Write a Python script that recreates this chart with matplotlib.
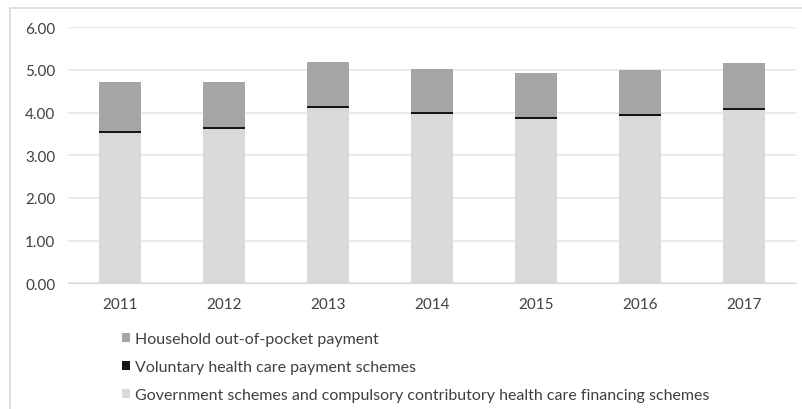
import matplotlib.pyplot as plt
from matplotlib.patches import Rectangle, Patch
import numpy as np

years = ["2011", "2012", "2013", "2014", "2015", "2016", "2017"]
government = [3.53, 3.61, 4.10, 3.97, 3.85, 3.91, 4.06]
voluntary = [0.05, 0.05, 0.05, 0.05, 0.05, 0.05, 0.05]
household = [1.13, 1.06, 1.04, 1.00, 1.03, 1.05, 1.05]

labels = ["Household out-of-pocket payment",
          "Voluntary health care payment schemes",
          "Government schemes and compulsory contributory health care financing schemes"]
colors = ["#a5a5a5", "#141414", "#d9d9d9"]

plt.rcParams['font.family'] = ['Lato', 'DejaVu Sans']

W, H = 803, 410
fig = plt.figure(figsize=(W / 100, H / 100), dpi=100)
ax = fig.add_axes([68 / W, 1 - 284.3 / H, 728 / W, (284.3 - 28.3) / H])

# outer chart frame (runs off the right and bottom edges)
fig.patches.append(Rectangle((10 / W, -0.1), 1.2, 1.1 - 9 / H, transform=fig.transFigure,
                             fill=False, edgecolor="#d9d9d9", lw=1.2))

x = np.arange(len(years))
gov = np.array(government)
vol = np.array(voluntary)
hh = np.array(household)
ax.bar(x, gov, width=0.4, color=colors[2], zorder=2)
ax.bar(x, vol, width=0.4, bottom=gov, color=colors[1], zorder=2)
ax.bar(x, hh, width=0.4, bottom=gov + vol, color=colors[0], zorder=2)

ax.set_xlim(-0.5, len(years) - 0.5)
ax.set_ylim(0, 6)
ax.set_yticks(np.arange(0, 6.01, 1))
ax.set_yticklabels(["%.2f" % v for v in np.arange(0, 6.01, 1)])
ax.set_xticks(x)
ax.set_xticklabels(years)
ax.yaxis.grid(True, color="#e6e6e6", lw=1.2, zorder=0)
for s in ["top", "right", "left"]:
    ax.spines[s].set_visible(False)
ax.spines["bottom"].set_color("#d9d9d9")
ax.tick_params(axis="both", length=0, labelsize=11, labelcolor="#404040")
ax.tick_params(axis="y", pad=9)
ax.tick_params(axis="x", pad=10)

handles = [Patch(facecolor=c) for c in colors]
fig.legend(handles, labels, loc="upper left", bbox_to_anchor=(114 / W, 1 - 325 / H),
           frameon=False, fontsize=11.5, handlelength=0.5, handleheight=0.5,
           handletextpad=0.3, labelspacing=0.88, borderpad=0, labelcolor="#404040")

fig.savefig("out.png", dpi=100)
